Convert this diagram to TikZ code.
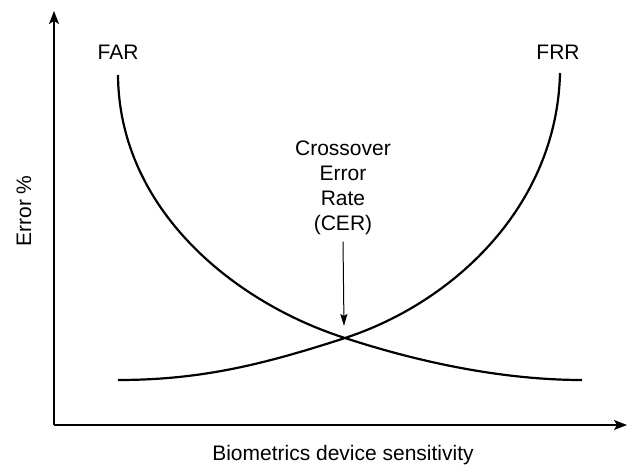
\documentclass[tikz,border=0pt]{standalone}
\usepackage{fontspec}
\setmainfont{Liberation Sans}
\usetikzlibrary{arrows.meta}
\begin{document}
\begin{tikzpicture}[x=1pt,y=-1pt,
  axis/.style={line width=1.4pt,-{Stealth[length=13pt,width=10pt,inset=3pt]}},
  curve/.style={line width=2.2pt},
  lbl/.style={font=\fontsize{21}{25.3}\selectfont,inner sep=0pt},
  pointer/.style={line width=1pt,-{Stealth[length=12pt,width=7pt,inset=2pt]}}]
\useasboundingbox (0,0) rectangle (627,465);
\coordinate (o) at (54,425);
\coordinate (ytop) at (54,11);
\coordinate (xend) at (627,425);
\draw[axis] (o) -- (ytop);
\draw[axis] (o) -- (xend);
% curves
\coordinate (far0) at (118,75);
\coordinate (cross) at (345,338);
\coordinate (far1) at (582,380);
\coordinate (frr0) at (118,380);
\coordinate (frr1) at (560,73);
\draw[curve] (far0) .. controls (119,210) and (235,303) .. (cross)
                    .. controls (440,369) and (520,380) .. (far1);
\draw[curve] (frr0) .. controls (200,380) and (262,365) .. (cross)
                    .. controls (455,302) and (557,205) .. (frr1);
% labels
\node[lbl,anchor=base] (far) at (118,60) {FAR};
\node[lbl,anchor=base] (frr) at (558,60) {FRR};
\node[lbl,anchor=base,align=center] (cer) at (343,231) {Crossover\\Error\\Rate\\(CER)};
\coordinate (tip) at (344,326);
\draw[pointer] ([yshift=-6pt]cer.south) -- (tip);
\node[lbl,rotate=90,anchor=base] (ylab) at (31,211) {Error \%};
\node[lbl,anchor=base] (xlab) at (343,460) {Biometrics device sensitivity};
\end{tikzpicture}
\end{document}
